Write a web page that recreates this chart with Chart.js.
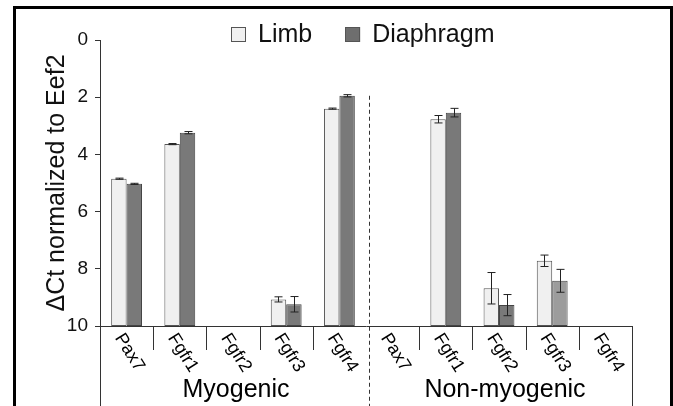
<!DOCTYPE html>
<html lang="en">
<head>
<meta charset="utf-8">
<script src="https://cdn.jsdelivr.net/npm/chart.js@4.4.1/dist/chart.umd.min.js"></script>
<style>
  body { margin: 0; background: #fff; }
  canvas { display: block; }
</style>
</head>
<body>
<canvas id="chart" width="673" height="406"></canvas>
<script>
const genes = ['Pax7', 'Fgfr1', 'Fgfr2', 'Fgfr3', 'Fgfr4', 'Pax7', 'Fgfr1', 'Fgfr2', 'Fgfr3', 'Fgfr4'];
const groups = ['Myogenic', 'Non-myogenic'];
const limb = [4.85, 3.64, null, 9.07, 2.40, null, 2.77, 8.68, 7.72, null];
const limbErr = [0.02, 0.02, 0, 0.09, 0.02, 0, 0.13, 0.55, 0.20, 0];
const diaphragm = [5.03, 3.24, null, 9.24, 1.95, null, 2.54, 9.27, 8.42, null];
const diaphragmErr = [0.02, 0.04, 0, 0.27, 0.04, 0, 0.15, 0.37, 0.40, 0];
const yMin = 0, yMax = 10, yStep = 2;

const FONT = "'Liberation Sans', Arial, sans-serif";

// bars hang from the bottom of the reversed axis (10) up to the value
function floating(vals) {
    return vals.map(v => v === null ? null : [yMax, v]);
}

const errorBars = {
    id: 'errorBars',
    afterDatasetsDraw(chart) {
        const {ctx, scales: {y}} = chart;
        ctx.save();
        ctx.strokeStyle = '#222';
        ctx.lineWidth = 1;
        chart.data.datasets.forEach((ds, di) => {
            const meta = chart.getDatasetMeta(di);
            meta.data.forEach((bar, i) => {
                const v = ds.values[i];
                if (v === null) return;
                const e = ds.errors[i];
                const x = Math.round(bar.x) + 0.5;
                const y1 = y.getPixelForValue(v - e);
                const y2 = y.getPixelForValue(v + e);
                ctx.beginPath();
                ctx.moveTo(x, y1); ctx.lineTo(x, y2);
                ctx.moveTo(x - 4, y1); ctx.lineTo(x + 4, y1);
                ctx.moveTo(x - 4, y2); ctx.lineTo(x + 4, y2);
                ctx.stroke();
            });
        });
        ctx.restore();
    }
};

const decor = {
    id: 'decor',
    beforeDraw(chart) {
        const ctx = chart.ctx;
        ctx.save();
        ctx.strokeStyle = '#000';
        ctx.lineWidth = 3;
        ctx.strokeRect(14.5, 7.5, 657, 420);
        ctx.restore();
    },
    afterDraw(chart) {
        const {ctx, chartArea: a, scales: {x, y}} = chart;
        const half = (x.getPixelForValue(1) - x.getPixelForValue(0)) / 2;
        const split = x.getPixelForValue(5) - half;
        ctx.save();
        ctx.strokeStyle = '#333';
        ctx.lineWidth = 1;
        ctx.beginPath();
        for (let i = 1; i < genes.length; i++) {
            if (i === 5) continue;
            const bx = Math.round(x.getPixelForValue(i) - half) + 0.5;
            ctx.moveTo(bx, a.bottom);
            ctx.lineTo(bx, a.bottom + 24);
        }
        [a.left, a.right].forEach(px => {
            const bx = Math.round(px) + 0.5;
            ctx.moveTo(bx, a.bottom);
            ctx.lineTo(bx, chart.height);
        });
        ctx.stroke();

        // dashed separator between the two groups
        ctx.setLineDash([4, 3]);
        ctx.beginPath();
        const sx = Math.round(split + 3) + 0.5;
        ctx.moveTo(sx, y.getPixelForValue(1.95));
        ctx.lineTo(sx, chart.height);
        ctx.stroke();
        ctx.setLineDash([]);

        // slanted gene labels
        ctx.fillStyle = '#000';
        ctx.font = '18px ' + FONT;
        ctx.textAlign = 'left';
        ctx.textBaseline = 'middle';
        genes.forEach((g, i) => {
            ctx.save();
            ctx.translate(x.getPixelForValue(i) - 8, a.bottom + 9);
            ctx.rotate(58 * Math.PI / 180);
            ctx.fillText(g, 0, 0);
            ctx.restore();
        });

        // group names
        ctx.font = '25px ' + FONT;
        ctx.textAlign = 'center';
        ctx.textBaseline = 'alphabetic';
        ctx.fillText(groups[0], (a.left + split) / 2 + 3, 397);
        ctx.fillText(groups[1], (split + a.right) / 2 + 6, 397);

        // legend
        ctx.font = '25px ' + FONT;
        const items = chart.data.datasets.map(ds => ({
            label: ds.label,
            color: ds.legendColor,
            w: 15 + 12 + ctx.measureText(ds.label).width
        }));
        const gap = 33;
        const total = items.reduce((s, it) => s + it.w, 0) + gap * (items.length - 1);
        let lx = Math.round((a.left + a.right) / 2 - total / 2 - 3);
        const cy = 34.5;
        ctx.textAlign = 'left';
        ctx.textBaseline = 'middle';
        items.forEach(it => {
            ctx.fillStyle = it.color;
            ctx.fillRect(lx, cy - 7.5, 15, 15);
            ctx.strokeStyle = '#555';
            ctx.strokeRect(Math.round(lx) + 0.5, cy - 7, 14, 14);
            ctx.fillStyle = '#111';
            ctx.fillText(it.label, lx + 27, cy + 1);
            lx += it.w + gap;
        });
        ctx.restore();
    }
};

const diaColors = diaphragm.map((v, i) => i === 8 ? '#9c9c9c' : '#797979');

new Chart(document.getElementById('chart'), {
    type: 'bar',
    data: {
        labels: genes,
        datasets: [{
            label: 'Limb',
            data: floating(limb),
            values: limb,
            errors: limbErr,
            backgroundColor: '#f0f0f0',
            legendColor: '#f0f0f0',
            borderColor: '#555',
            borderWidth: 1,
            borderSkipped: false
        }, {
            label: 'Diaphragm',
            data: floating(diaphragm),
            values: diaphragm,
            errors: diaphragmErr,
            backgroundColor: diaColors,
            legendColor: '#6e6e6e',
            borderColor: '#444',
            borderWidth: 1,
            borderSkipped: false
        }]
    },
    options: {
        responsive: false,
        animation: false,
        maintainAspectRatio: false,
        layout: { padding: { top: 40, right: 41, left: 0, bottom: 0 } },
        datasets: { bar: { categoryPercentage: 0.58, barPercentage: 1 } },
        plugins: {
            legend: { display: false },
            tooltip: { enabled: false }
        },
        scales: {
            x: {
                ticks: { display: false },
                grid: { display: false },
                border: { display: true, color: '#333', width: 1 },
                afterFit: s => { s.height = 80; }
            },
            y: {
                reverse: true,
                min: yMin,
                max: yMax,
                ticks: {
                    stepSize: yStep,
                    color: '#111',
                    padding: 7,
                    font: { family: FONT, size: 19 }
                },
                grid: { drawOnChartArea: false, drawTicks: true, tickLength: 5, color: '#333' },
                border: { display: true, color: '#333', width: 1 },
                title: {
                    display: true,
                    text: 'ΔCt normalized to Eef2',
                    color: '#111',
                    font: { family: FONT, size: 25 },
                    padding: { top: 42, bottom: 0 }
                },
                afterFit: s => { s.width = 100; }
            }
        }
    },
    plugins: [errorBars, decor]
});
</script>
</body>
</html>
